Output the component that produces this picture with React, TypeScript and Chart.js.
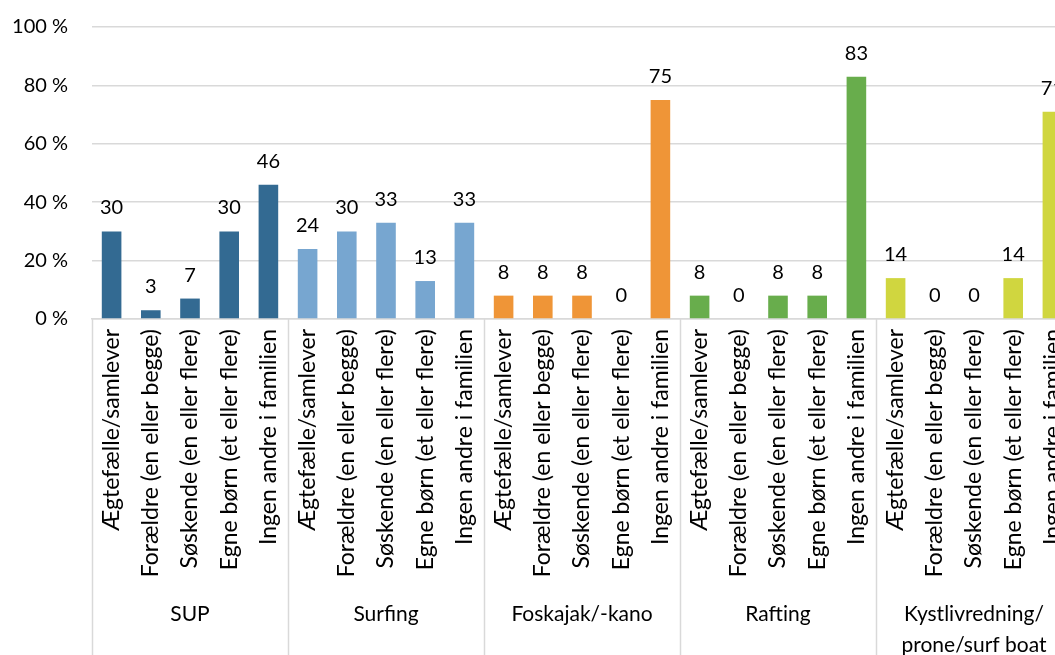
import React, { useEffect, useRef } from "react";
import { Chart, registerables } from "chart.js";

Chart.register(...registerables);

const groups = ["SUP", "Surfing", "Foskajak/-kano", "Rafting", "Kystlivredning/\nprone/surf boat"];
const relations = [
  "Ægtefælle/samlever",
  "Forældre (en eller begge)",
  "Søskende (en eller flere)",
  "Egne børn (et eller flere)",
  "Ingen andre i familien",
];
const supValues = [30, 3, 7, 30, 46];
const surfingValues = [24, 30, 33, 13, 33];
const foskajakValues = [8, 8, 8, 0, 75];
const raftingValues = [8, 0, 8, 8, 83];
const kystValues = [14, 0, 0, 14, 71];
const groupColors = ["#336A92", "#77A6D0", "#EF9537", "#68AD4C", "#D0D63F"];
const yTicks = [0, 20, 40, 60, 80, 100];

const FONT = "Lato, 'Open Sans', sans-serif";

export default function App() {
  const canvasRef = useRef<HTMLCanvasElement | null>(null);

  useEffect(() => {
    if (!canvasRef.current) return;
    const allSeries = [supValues, surfingValues, foskajakValues, raftingValues, kystValues];
    const labels: string[] = [];
    const values: number[] = [];
    const colors: string[] = [];
    allSeries.forEach((s, g) => {
      s.forEach((v, i) => {
        labels.push(relations[i]);
        values.push(v);
        colors.push(groupColors[g]);
      });
    });

    const labelPlugin = {
      id: "valueLabels",
      afterDatasetsDraw(chart: any) {
        const ctx = chart.ctx;
        const meta = chart.getDatasetMeta(0);
        ctx.save();
        ctx.font = `20px ${FONT}`;
        ctx.fillStyle = "#000000";
        ctx.textAlign = "center";
        ctx.textBaseline = "alphabetic";
        meta.data.forEach((bar: any, i: number) => {
          ctx.fillText(String(values[i]), bar.x, bar.y - 17);
        });
        ctx.restore();
      },
    };

    const groupPlugin = {
      id: "groupAxis",
      afterDraw(chart: any) {
        const ctx = chart.ctx;
        const xs = chart.scales.x;
        const n = labels.length;
        const catW = (xs.right - xs.left) / n;
        const per = relations.length;
        const top = chart.chartArea.bottom;
        const bottom = chart.height;
        ctx.save();
        ctx.strokeStyle = "#d9d9d9";
        ctx.lineWidth = 1.5;
        for (let g = 0; g <= groups.length; g++) {
          const x = Math.round(xs.left + g * per * catW) + 0.5;
          ctx.beginPath();
          ctx.moveTo(x, top);
          ctx.lineTo(x, bottom);
          ctx.stroke();
        }
        ctx.font = `21px ${FONT}`;
        ctx.fillStyle = "#000000";
        ctx.textAlign = "center";
        ctx.textBaseline = "middle";
        groups.forEach((name, g) => {
          const cx = xs.left + (g * per + per / 2) * catW;
          const lines = name.split("\n");
          lines.forEach((ln, k) => {
            ctx.fillText(ln, cx, 614 + k * 31);
          });
        });
        ctx.restore();
      },
    };

    const chart = new Chart(canvasRef.current, {
      type: "bar",
      data: {
        labels,
        datasets: [
          {
            data: values,
            backgroundColor: colors,
            borderWidth: 0,
            barPercentage: 0.5,
            categoryPercentage: 1,
          },
        ],
      },
      options: {
        animation: false,
        responsive: false,
        devicePixelRatio: 1,
        layout: { padding: { top: 27, left: 0, right: 8, bottom: 0 } },
        plugins: {
          legend: { display: false },
          tooltip: { enabled: false },
          title: { display: false },
        },
        scales: {
          x: {
            grid: { display: false, drawTicks: false },
            border: { display: true, color: "#d9d9d9", width: 1.5 },
            ticks: {
              autoSkip: false,
              minRotation: 90,
              maxRotation: 90,
              padding: 10,
              color: "#000000",
              font: { family: FONT, size: 23 },
            },
            afterFit(scale: any) {
              scale.height = 336;
              scale.paddingLeft = 0;
              scale.paddingRight = 0;
            },
          },
          y: {
            min: 0,
            max: 100,
            afterBuildTicks(scale: any) {
              scale.ticks = yTicks.map((v) => ({ value: v }));
            },
            grid: { color: "#d9d9d9", lineWidth: 1.5, drawTicks: false },
            border: { display: false },
            ticks: {
              padding: 24,
              color: "#000000",
              font: { family: FONT, size: 20 },
              callback: (v: any) => `${v} %`,
            },
            afterFit(scale: any) {
              scale.width = 92;
              scale.paddingTop = 0;
              scale.paddingBottom = 0;
            },
          },
        },
      },
      plugins: [labelPlugin, groupPlugin],
    });
    return () => chart.destroy();
  }, []);

  return (
    <div
      style={{
        position: "fixed",
        left: 0,
        top: 0,
        width: 1055,
        height: 655,
        overflow: "hidden",
        background: "#ffffff",
      }}
    >
      <canvas
        ref={canvasRef}
        width={1080}
        height={655}
        style={{ width: 1080, height: 655, display: "block" }}
      />
    </div>
  );
}
